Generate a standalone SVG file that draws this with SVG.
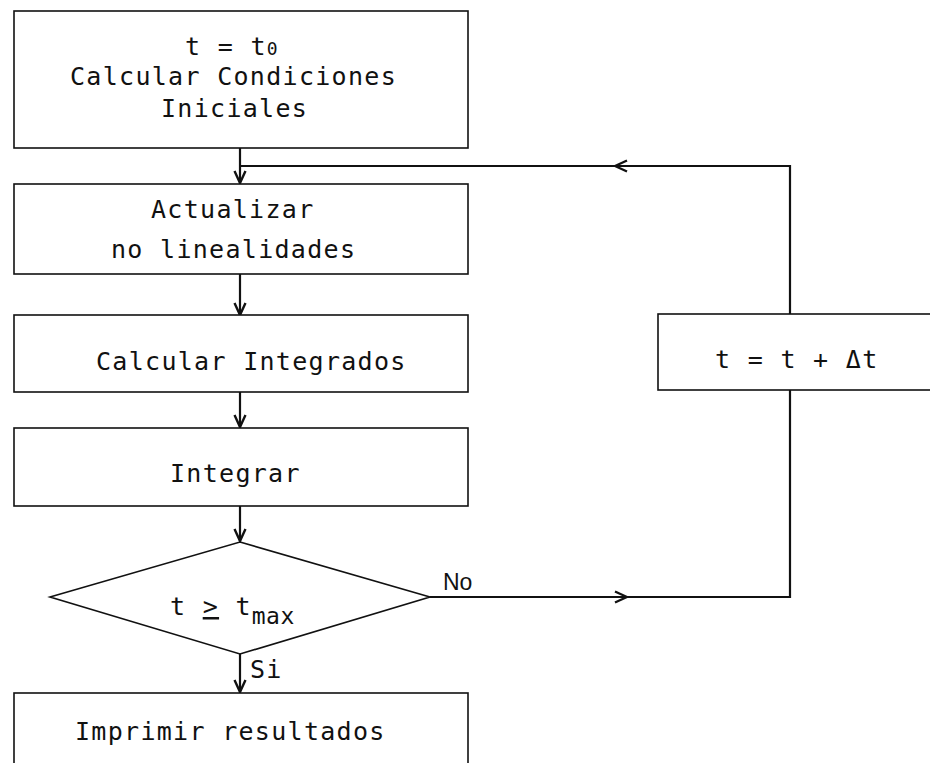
<svg xmlns="http://www.w3.org/2000/svg" width="930" height="763" viewBox="0 0 930 763">
<style>
.box{fill:#fff;stroke:#111;stroke-width:1.6}
.t{font-family:"DejaVu Sans Mono","Liberation Mono",monospace;font-size:25px;letter-spacing:1.3px;fill:#111}
.s{font-size:18px;letter-spacing:0}
.m{font-size:23px;letter-spacing:0.5px}
.lbl{font-family:"Liberation Sans",Arial,sans-serif;font-size:23px;fill:#111}
.c{fill:none;stroke:#111;stroke-width:2.2}
</style>
<defs>
<marker id="ah" viewBox="0 0 14 14" refX="13" refY="7" markerWidth="14" markerHeight="14" markerUnits="userSpaceOnUse" orient="auto">
<path d="M1,1.5 L13,7 L1,12.5" fill="none" stroke="#111" stroke-width="2.4"/>
</marker>
</defs>
<rect width="930" height="763" fill="#fff"/>
<g id="connectors">
<path class="c" d="M240,148 V183" marker-end="url(#ah)"/>
<path class="c" d="M790,314 V166 H615" marker-end="url(#ah)"/>
<path class="c" d="M615,166 H240"/>
<path class="c" d="M240,274 V315" marker-end="url(#ah)"/>
<path class="c" d="M240,392 V427" marker-end="url(#ah)"/>
<path class="c" d="M240,506 V541" marker-end="url(#ah)"/>
<path class="c" d="M240,654 V692" marker-end="url(#ah)"/>
<path class="c" d="M430,597 H627" marker-end="url(#ah)"/>
<path class="c" d="M627,597 H790 V390"/>
</g>
<g id="n1">
<rect class="box" x="14" y="11" width="454" height="137"/>
<text class="t" x="185" y="55">t = t<tspan class="s">0</tspan></text>
<text class="t" x="70" y="85">Calcular Condiciones</text>
<text class="t" x="161" y="117">Iniciales</text>
</g>
<g id="n2">
<rect class="box" x="14" y="184" width="454" height="90"/>
<text class="t" x="151" y="218">Actualizar</text>
<text class="t" x="111" y="258">no linealidades</text>
</g>
<g id="n3">
<rect class="box" x="14" y="315" width="454" height="77"/>
<text class="t" x="96" y="370">Calcular Integrados</text>
</g>
<g id="n4">
<rect class="box" x="14" y="428" width="454" height="78"/>
<text class="t" x="170" y="482">Integrar</text>
</g>
<g id="n5">
<polygon class="box" points="240,542 430,597 240,654 50,597"/>
<text class="t" x="170" y="615">t <tspan text-decoration="underline">&gt;</tspan> t<tspan class="m" dy="9">max</tspan></text>
</g>
<g id="n6">
<rect class="box" x="14" y="693" width="454" height="80"/>
<text class="t" x="75" y="740">Imprimir resultados</text>
</g>
<g id="n7">
<rect class="box" x="658" y="314" width="280" height="76"/>
<text class="t" x="715" y="368">t = t + Δt</text>
</g>
<g id="labels">
<text class="t" x="250" y="678">Si</text>
<text class="lbl" x="443" y="590">No</text>
</g>
</svg>
